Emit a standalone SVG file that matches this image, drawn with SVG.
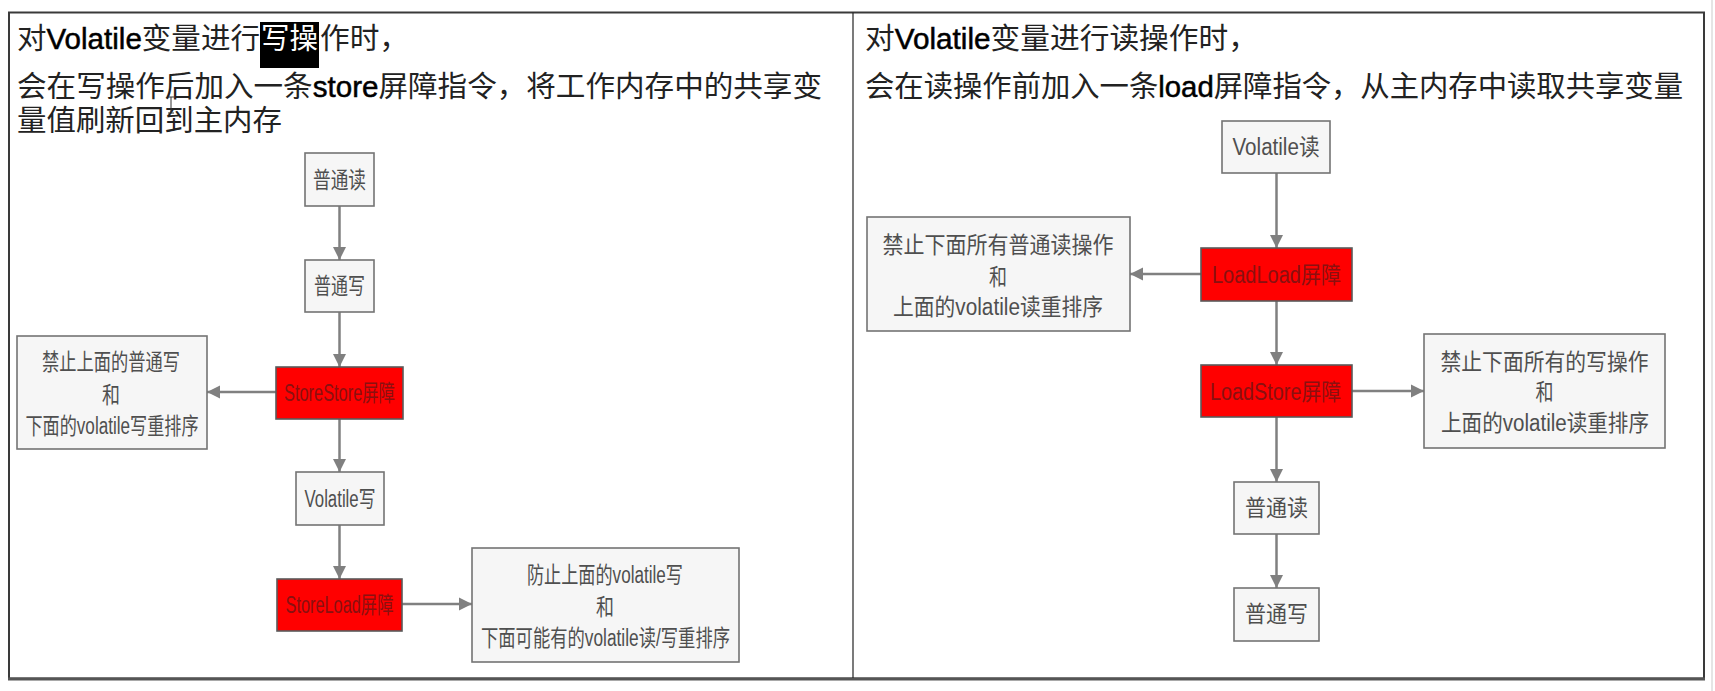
<svg xmlns="http://www.w3.org/2000/svg" width="1715" height="691" viewBox="0 0 1715 691">
<style>
.hd{font-family:"Liberation Sans","Noto Sans CJK SC",sans-serif;font-size:29px;fill:#222}
.lat{fill:#000;stroke:#000;stroke-width:0.5}
.wh{fill:#fff}
.box{fill:#f6f6f6;stroke:#747474;stroke-width:1.6}
.red{fill:#ff0000;stroke:#5a5a5a;stroke-width:1.6}
.t{font-family:"Liberation Sans","Noto Sans CJK SC",sans-serif;font-size:23px;fill:#4f4f4f;text-anchor:middle;dominant-baseline:central}
.rt{fill:#8a1010}
.con line{stroke:#808080;stroke-width:2.5;marker-end:url(#ah)}
</style>
<defs>
<marker id="ah" markerWidth="14" markerHeight="14" refX="13" refY="7" orient="auto" markerUnits="userSpaceOnUse"><path d="M0,0.5 L13,7 L0,13.5 z" fill="#808080"/></marker>
</defs>
<rect width="1715" height="691" fill="#fff"/>
<g id="frame">
<rect x="9" y="12.5" width="1695" height="666" fill="#fff" stroke="#3a3a3a" stroke-width="2"/>
<line x1="8" y1="679" x2="1705" y2="679" stroke="#555" stroke-width="3"/>
<line x1="853" y1="12.5" x2="853" y2="678" stroke="#222" stroke-width="1.2"/>
<line x1="1712" y1="0" x2="1712" y2="691" stroke="#ddd" stroke-width="1.5"/>
</g>
<g id="header-left">
<rect x="260" y="22" width="59" height="46" fill="#000"/>
<text class="hd" x="17" y="49" textLength="243" lengthAdjust="spacingAndGlyphs">对<tspan class="lat">Volatile</tspan>变量进行</text>
<text class="hd wh" x="261" y="49" textLength="57" lengthAdjust="spacingAndGlyphs">写操</text>
<text class="hd" x="320" y="49" textLength="89" lengthAdjust="spacingAndGlyphs">作时，</text>
<text class="hd" x="17" y="97" textLength="805" lengthAdjust="spacingAndGlyphs">会在写操作后加入一条<tspan class="lat">store</tspan>屏障指令，将工作内存中的共享变</text>
<text class="hd" x="17" y="131" textLength="265" lengthAdjust="spacingAndGlyphs">量值刷新回到主内存</text>
<path d="M171,97 V113 M168,97 H174 M168,113 H174" stroke="#333" stroke-width="1" fill="none"/>
</g>
<g id="header-right">
<text class="hd" x="865" y="49" textLength="393" lengthAdjust="spacingAndGlyphs">对<tspan class="lat">Volatile</tspan>变量进行读操作时，</text>
<text class="hd" x="865" y="97" textLength="818" lengthAdjust="spacingAndGlyphs">会在读操作前加入一条<tspan class="lat">load</tspan>屏障指令，从主内存中读取共享变量</text>
</g>
<g id="connectors" class="con">
<line x1="339.5" y1="206" x2="339.5" y2="260"/>
<line x1="339.5" y1="312" x2="339.5" y2="367"/>
<line x1="276" y1="392" x2="207" y2="392"/>
<line x1="339.5" y1="419" x2="339.5" y2="472"/>
<line x1="339.5" y1="525" x2="339.5" y2="579"/>
<line x1="402" y1="604" x2="472" y2="604"/>
<line x1="1276.5" y1="173" x2="1276.5" y2="248"/>
<line x1="1201" y1="274" x2="1130" y2="274"/>
<line x1="1276.5" y1="301" x2="1276.5" y2="365"/>
<line x1="1352" y1="391" x2="1424" y2="391"/>
<line x1="1276.5" y1="417" x2="1276.5" y2="482"/>
<line x1="1276.5" y1="534" x2="1276.5" y2="588"/>
</g>
<g id="l-read"><rect class="box" x="305" y="153" width="69" height="53"/><text class="t" x="339.5" y="180" textLength="53" lengthAdjust="spacingAndGlyphs">普通读</text></g>
<g id="l-write"><rect class="box" x="305" y="260" width="69" height="52"/><text class="t" x="339.5" y="286" textLength="51" lengthAdjust="spacingAndGlyphs">普通写</text></g>
<g id="storestore"><rect class="red" x="276" y="367" width="127" height="52"/><text class="t rt" x="339.5" y="393" textLength="111" lengthAdjust="spacingAndGlyphs">StoreStore屏障</text></g>
<g id="note-storestore"><rect class="box" x="17" y="336" width="190" height="113"/>
<text class="t" x="111" y="362" textLength="138" lengthAdjust="spacingAndGlyphs">禁止上面的普通写</text>
<text class="t" x="111" y="395" textLength="18" lengthAdjust="spacingAndGlyphs">和</text>
<text class="t" x="112" y="426" textLength="173" lengthAdjust="spacingAndGlyphs">下面的volatile写重排序</text></g>
<g id="volatile-write"><rect class="box" x="296" y="472" width="88" height="53"/><text class="t" x="340" y="499" textLength="71" lengthAdjust="spacingAndGlyphs">Volatile写</text></g>
<g id="storeload"><rect class="red" x="277" y="579" width="125" height="52"/><text class="t rt" x="339.5" y="605" textLength="108" lengthAdjust="spacingAndGlyphs">StoreLoad屏障</text></g>
<g id="note-storeload"><rect class="box" x="472" y="548" width="267" height="114"/>
<text class="t" x="605" y="575" textLength="156" lengthAdjust="spacingAndGlyphs">防止上面的volatile写</text>
<text class="t" x="605" y="607" textLength="18" lengthAdjust="spacingAndGlyphs">和</text>
<text class="t" x="605.5" y="638" textLength="249" lengthAdjust="spacingAndGlyphs">下面可能有的volatile读/写重排序</text></g>
<g id="volatile-read"><rect class="box" x="1222" y="121" width="108" height="52"/><text class="t" x="1276" y="147" textLength="87" lengthAdjust="spacingAndGlyphs">Volatile读</text></g>
<g id="loadload"><rect class="red" x="1201" y="248" width="151" height="53"/><text class="t rt" x="1276.5" y="275" textLength="129" lengthAdjust="spacingAndGlyphs">LoadLoad屏障</text></g>
<g id="note-loadload"><rect class="box" x="867" y="217" width="263" height="114"/>
<text class="t" x="998" y="245" textLength="231" lengthAdjust="spacingAndGlyphs">禁止下面所有普通读操作</text>
<text class="t" x="998" y="277" textLength="18" lengthAdjust="spacingAndGlyphs">和</text>
<text class="t" x="998" y="307" textLength="210" lengthAdjust="spacingAndGlyphs">上面的volatile读重排序</text></g>
<g id="loadstore"><rect class="red" x="1201" y="365" width="151" height="52"/><text class="t rt" x="1275.5" y="392" textLength="131" lengthAdjust="spacingAndGlyphs">LoadStore屏障</text></g>
<g id="note-loadstore"><rect class="box" x="1424" y="334" width="241" height="114"/>
<text class="t" x="1544.5" y="362" textLength="208" lengthAdjust="spacingAndGlyphs">禁止下面所有的写操作</text>
<text class="t" x="1544.5" y="392" textLength="18" lengthAdjust="spacingAndGlyphs">和</text>
<text class="t" x="1545" y="423" textLength="208" lengthAdjust="spacingAndGlyphs">上面的volatile读重排序</text></g>
<g id="r-read"><rect class="box" x="1234" y="482" width="85" height="52"/><text class="t" x="1276.5" y="508" textLength="63" lengthAdjust="spacingAndGlyphs">普通读</text></g>
<g id="r-write"><rect class="box" x="1234" y="588" width="85" height="53"/><text class="t" x="1276.5" y="614" textLength="63" lengthAdjust="spacingAndGlyphs">普通写</text></g>
</svg>
